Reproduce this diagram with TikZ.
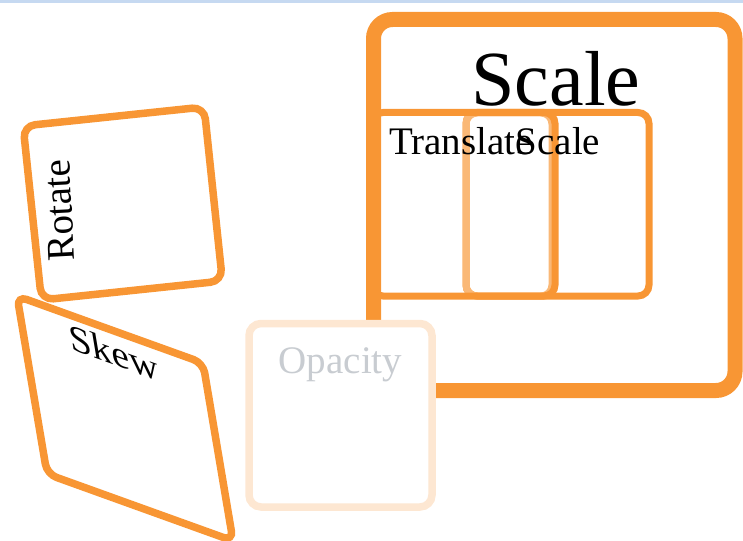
\documentclass[tikz,border=0pt]{standalone}
\usepackage{fontspec}
\setmainfont{Liberation Serif}

\definecolor{boxorange}{RGB}{248,150,52}
\definecolor{paleorange}{RGB}{250,184,118}
\definecolor{fadedorange}{RGB}{253,231,210}
\definecolor{fadedtext}{RGB}{200,204,209}
\definecolor{topband}{RGB}{198,217,241}

\tikzset{
  card/.style={draw=boxorange, line width=7.5pt, rounded corners=12pt, fill=white},
  rowcard/.style={draw=boxorange, line width=7pt, rounded corners=11pt},
  cardtext/.style={font=\fontsize{39}{44}\selectfont, inner sep=0pt, anchor=base},
}

\begin{document}
\begin{tikzpicture}[x=1pt,y=-1pt]
\useasboundingbox (0,0) rectangle (743,540);

% thin band along the top edge
\fill[topband] (0,0) rectangle (743,3);

% rotated card
\begin{scope}[shift={(122.75,203.5)}, rotate=6]
  \draw[card] (-91,-87.5) rectangle (91,87.5);
  \node[cardtext, transform shape, rotate=87] (rot) at (-51,1) {Rotate};
\end{scope}

% skewed card
\begin{scope}[shift={(17,296)}, cm={1.022,-0.368,-0.165,0.978,(0,0)}]
  \draw[card, rounded corners=10pt] (0,0) rectangle (182,182);
  \node[cardtext, transform shape] (skw) at (91,37) {Skew};
\end{scope}

% large container with its title
\node[font=\fontsize{78}{90}\selectfont, inner sep=0pt, anchor=base] (bigscale) at (556,106) {Scale};

% row of cards inside the container
\draw[rowcard] (466,112.5) rectangle (649,296);
\draw[rowcard, draw=paleorange] (466,113) rectangle (552,296);
\draw[rowcard] (372,112.5) rectangle (555,296);
\node[cardtext] (trans) at (461,155) {Translate};
\node[cardtext] (smallscale) at (558,155) {Scale};

% container border
\draw[draw=boxorange, line width=15pt, rounded corners=19pt] (373.5,19.5) rectangle (735,390.5);

% faded card on top
\draw[card, draw=fadedorange] (249,323.5) rectangle (432,507);
\node[cardtext, text=fadedtext] (opac) at (340.5,373) {Opacity};
\end{tikzpicture}
\end{document}
